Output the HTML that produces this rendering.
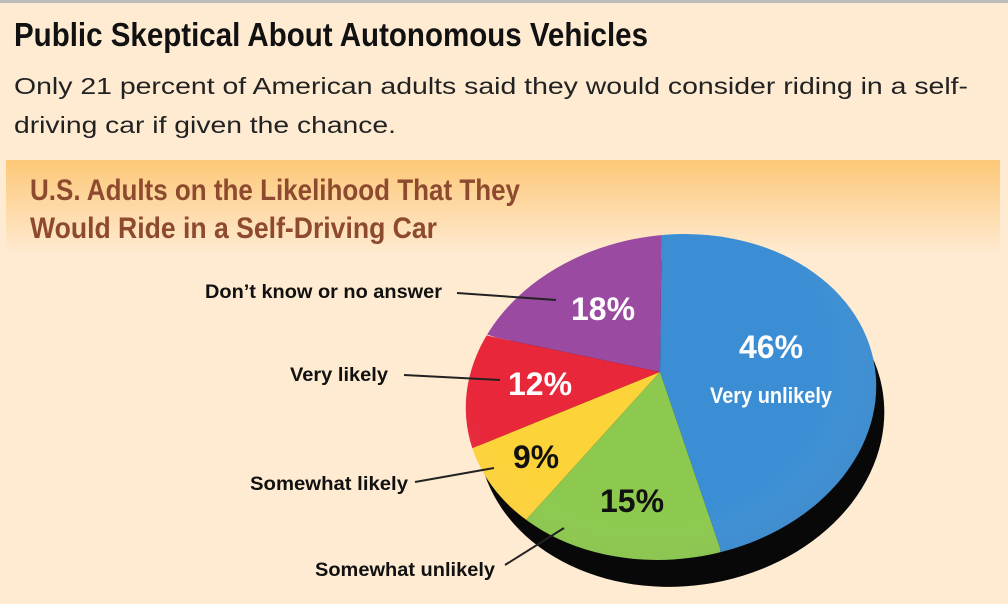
<!DOCTYPE html>
<html><head><style>
html,body{margin:0;padding:0;background:#feebd2;}
svg{display:block;}
text{font-family:"Liberation Sans",sans-serif;}
</style></head><body>
<svg width="1008" height="604" viewBox="0 0 1008 604" xmlns="http://www.w3.org/2000/svg">
<defs>
<linearGradient id="band" x1="0" y1="0" x2="0" y2="1">
<stop offset="0" stop-color="#fdc878"/><stop offset="1" stop-color="#feebd2"/>
</linearGradient>
<clipPath id="pie"><ellipse cx="671" cy="397" rx="206" ry="162" transform="rotate(-8 671 397)"/></clipPath>
<radialGradient id="shade" cx="0.45" cy="0.4" r="0.65">
<stop offset="0.6" stop-color="#fff" stop-opacity="0"/><stop offset="1" stop-color="#000" stop-opacity="0.15"/>
</radialGradient>
</defs>
<rect width="1008" height="604" fill="#feebd2"/>
<rect width="1008" height="3" fill="#bbb"/>
<rect x="6" y="160" width="994" height="95" fill="url(#band)"/>
<text x="14" y="46" font-size="33" font-weight="bold" textLength="634" lengthAdjust="spacingAndGlyphs" fill="#111">Public Skeptical About Autonomous Vehicles</text>
<text x="14" y="94" font-size="23" textLength="954" lengthAdjust="spacingAndGlyphs" fill="#222">Only 21 percent of American adults said they would consider riding in a self-</text>
<text x="14" y="133" font-size="23" textLength="382" lengthAdjust="spacingAndGlyphs" fill="#222">driving car if given the chance.</text>
<text x="30" y="200" font-size="30" font-weight="bold" textLength="490" lengthAdjust="spacingAndGlyphs" fill="#8e4a2e">U.S. Adults on the Likelihood That They</text>
<text x="30" y="238" font-size="30" font-weight="bold" textLength="407" lengthAdjust="spacingAndGlyphs" fill="#8e4a2e">Would Ride in a Self-Driving Car</text>
<!-- shadow -->
<ellipse cx="681" cy="422" rx="204" ry="164" transform="rotate(-8 681 422)" fill="#080808"/>
<g clip-path="url(#pie)">
<polygon points="660,372 662,200 900,200 900,600 725,600 720,548" fill="#3b8ed4"/>
<polygon points="660,372 662,200 440,200 440,320 498,338" fill="#9a4aa0"/>
<polygon points="660,372 498,338 440,325 440,455 468,450" fill="#e8273a"/>
<polygon points="660,372 468,450 440,455 440,560 517,530" fill="#fdd33a"/>
<polygon points="660,372 517,530 500,600 725,600 720,548" fill="#8cc94e"/>
<rect x="440" y="200" width="460" height="400" fill="url(#shade)"/>
</g>
<text x="603" y="320" font-size="32" font-weight="bold" fill="#fff" text-anchor="middle" textLength="64" lengthAdjust="spacingAndGlyphs">18%</text>
<text x="540" y="395" font-size="32" font-weight="bold" fill="#fff" text-anchor="middle" textLength="64" lengthAdjust="spacingAndGlyphs">12%</text>
<text x="536" y="468" font-size="32" font-weight="bold" fill="#111" text-anchor="middle" textLength="46" lengthAdjust="spacingAndGlyphs">9%</text>
<text x="632" y="512" font-size="32" font-weight="bold" fill="#111" text-anchor="middle" textLength="64" lengthAdjust="spacingAndGlyphs">15%</text>
<text x="771" y="358" font-size="32" font-weight="bold" fill="#fff" text-anchor="middle" textLength="64" lengthAdjust="spacingAndGlyphs">46%</text>
<text x="771" y="403" font-size="22" font-weight="bold" fill="#fff" text-anchor="middle" textLength="122" lengthAdjust="spacingAndGlyphs">Very unlikely</text>
<g font-size="19" font-weight="bold" fill="#111">
<text x="442" y="298" text-anchor="end" textLength="237" lengthAdjust="spacingAndGlyphs">Don’t know or no answer</text>
<text x="388" y="381" text-anchor="end" textLength="98" lengthAdjust="spacingAndGlyphs">Very likely</text>
<text x="408" y="490" text-anchor="end" textLength="158" lengthAdjust="spacingAndGlyphs">Somewhat likely</text>
<text x="495" y="576" text-anchor="end" textLength="180" lengthAdjust="spacingAndGlyphs">Somewhat unlikely</text>
</g>
<g stroke="#222" stroke-width="2">
<line x1="457" y1="293" x2="556" y2="300"/>
<line x1="404" y1="375" x2="500" y2="380"/>
<line x1="415" y1="482" x2="494" y2="468"/>
<line x1="505" y1="565" x2="564" y2="528"/>
</g>
</svg>
</body></html>
